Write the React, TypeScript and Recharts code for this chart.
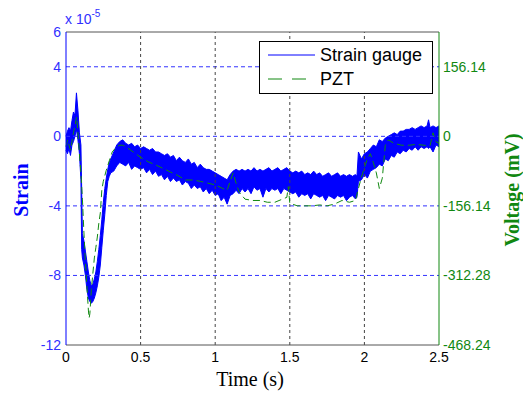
import React from "react";
import {
  ComposedChart,
  Area,
  Line,
  XAxis,
  YAxis,
  ReferenceLine,
  Legend,
  Label,
} from "recharts";

const strainTime = [
  0, 0.01, 0.02, 0.03, 0.04, 0.05, 0.06, 0.07, 0.08, 0.09, 0.1, 0.105, 0.11,
  0.12, 0.13, 0.14, 0.15, 0.16, 0.17, 0.18, 0.19, 0.2, 0.21, 0.22, 0.23, 0.24,
  0.25, 0.26, 0.27, 0.28, 0.29, 0.3, 0.32, 0.34, 0.36, 0.38, 0.4, 0.42, 0.44,
  0.46, 0.48, 0.5, 0.52, 0.54, 0.56, 0.58, 0.6, 0.62, 0.64, 0.66, 0.68, 0.7,
  0.72, 0.74, 0.76, 0.78, 0.8, 0.82, 0.84, 0.86, 0.88, 0.9, 0.92, 0.94, 0.96,
  0.98, 1, 1.02, 1.04, 1.06, 1.08, 1.1, 1.12, 1.14, 1.16, 1.18, 1.2, 1.22,
  1.24, 1.26, 1.28, 1.3, 1.32, 1.34, 1.36, 1.38, 1.4, 1.42, 1.44, 1.46, 1.48,
  1.5, 1.52, 1.54, 1.56, 1.58, 1.6, 1.62, 1.64, 1.66, 1.68, 1.7, 1.72, 1.74,
  1.76, 1.78, 1.8, 1.82, 1.84, 1.86, 1.88, 1.9, 1.92, 1.94, 1.95, 1.96, 1.98,
  2, 2.02, 2.04, 2.06, 2.08, 2.1, 2.12, 2.14, 2.16, 2.18, 2.2, 2.22, 2.24,
  2.26, 2.28, 2.3, 2.32, 2.34, 2.36, 2.38, 2.4, 2.42, 2.43, 2.44, 2.46, 2.48,
  2.5,
];
const strainLow = [
  -0.8, -1.0, -0.7, -1.1, -0.5, -0.3, 0.0, 0.4, -0.2, -1.0, -2.5, -6.5, -7.0,
  -7.4, -8.0, -8.8, -9.3, -9.5, -9.6, -9.5, -9.3, -9.0, -8.6, -8.1, -7.4, -6.4,
  -5.4, -4.5, -3.4, -2.6, -2.3, -2.1, -2.0, -1.7, -1.5, -1.6, -1.7, -1.5, -1.9,
  -1.7, -1.8, -1.9, -1.8, -2.1, -1.9, -2.2, -2.0, -2.3, -2.2, -2.5, -2.3, -2.6,
  -2.4, -2.6, -2.5, -2.8, -2.6, -2.7, -3.0, -2.8, -3.0, -2.9, -3.2, -3.0, -3.3,
  -3.1, -3.4, -3.3, -3.7, -3.5, -3.9, -3.4, -3.3, -3.1, -3.3, -3.0, -3.2, -3.0,
  -3.3, -2.9, -3.1, -3.0, -3.5, -3.0, -3.2, -3.0, -3.1, -3.0, -3.3, -3.0, -3.1,
  -3.2, -3.3, -3.2, -3.5, -3.3, -3.4, -3.3, -3.6, -3.3, -3.4, -3.5, -3.4, -3.7,
  -3.4, -3.5, -3.6, -3.4, -3.5, -3.4, -3.7, -3.5, -3.4, -3.6, -3.5, -2.6, -2.5,
  -2.2, -2.4, -2.0, -1.9, -1.8, -1.6, -1.7, -1.3, -1.4, -1.1, -1.2, -0.9, -1.0,
  -0.8, -0.9, -0.7, -0.8, -0.6, -0.8, -0.6, -0.7, -0.6, -0.7, -0.6, -0.9, -0.5,
  -0.6,
];
const strainHigh = [
  0.0, 0.3, 0.5, 0.3, 0.9, 1.4, 1.2, 2.5, 1.5, 0.2, -0.5, -3.0, -5.6, -6.0,
  -6.6, -7.2, -7.8, -8.3, -8.6, -8.5, -8.2, -7.8, -7.2, -6.5, -5.7, -4.8, -3.8,
  -3.0, -2.4, -1.9, -1.5, -1.3, -0.9, -0.5, -0.3, -0.2, -0.4, -0.5, -0.4, -0.6,
  -0.5, -0.7, -0.6, -0.7, -0.8, -0.7, -0.9, -0.9, -1.0, -1.1, -1.0, -1.2, -1.1,
  -1.4, -1.2, -1.4, -1.5, -1.3, -1.6, -1.5, -1.8, -1.6, -1.8, -1.9, -1.9, -2.0,
  -2.1, -2.2, -2.3, -2.4, -2.5, -2.2, -2.0, -1.9, -2.0, -1.9, -2.0, -1.9, -2.0,
  -1.8, -2.0, -1.9, -2.0, -1.9, -1.8, -2.0, -1.9, -1.8, -2.0, -1.9, -1.8, -2.0,
  -2.1, -2.0, -2.1, -2.0, -2.2, -2.1, -2.2, -2.0, -2.2, -2.1, -2.3, -2.2, -2.1,
  -2.3, -2.2, -2.1, -2.3, -2.2, -2.3, -2.2, -2.3, -2.2, -2.3, -0.9, -1.3, -1.0,
  -0.9, -0.7, -0.5, -0.6, -0.2, -0.3, -0.1, 0.0, 0.1, 0.2, 0.1, 0.3, 0.3, 0.4,
  0.4, 0.5, 0.4, 0.5, 0.6, 0.5, 0.6, 0.95, 0.5, 0.6, 0.5, 0.6,
];

// PZT voltage (mV)
const pztTime = [
  0, 0.01, 0.02, 0.03, 0.04, 0.05, 0.06, 0.07, 0.075, 0.08, 0.09, 0.1, 0.11,
  0.12, 0.13, 0.14, 0.15, 0.155, 0.16, 0.17, 0.18, 0.19, 0.2, 0.21, 0.22, 0.23,
  0.24, 0.25, 0.27, 0.29, 0.31, 0.34, 0.36, 0.38, 0.4, 0.45, 0.5, 0.55, 0.6,
  0.65, 0.7, 0.75, 0.8, 0.85, 0.9, 0.95, 1, 1.05, 1.08, 1.1, 1.12, 1.14, 1.16,
  1.2, 1.25, 1.3, 1.35, 1.4, 1.45, 1.48, 1.49, 1.5, 1.55, 1.6, 1.65, 1.7, 1.75,
  1.8, 1.85, 1.9, 1.94, 1.96, 1.98, 2, 2.02, 2.04, 2.06, 2.08, 2.1, 2.12, 2.14,
  2.16, 2.2, 2.25, 2.3, 2.35, 2.4, 2.44, 2.46, 2.48, 2.5,
];
const pztMv = [
  -23, -8, -20, -31, -12, 8, 23, 43, 31, 8, -39, -82, -141, -215, -281, -336,
  -390, -408, -398, -344, -308, -273, -250, -226, -195, -172, -121, -101, -76,
  -55, -35, -23, -20, -20, -23, -35, -47, -57, -64, -72, -80, -88, -98, -98,
  -101, -105, -109, -117, -121, -101, -82, -105, -125, -141, -144, -144, -148,
  -148, -141, -137, -113, -150, -156, -156, -156, -154, -156, -152, -144, -148,
  -144, -117, -92, -70, -51, -39, -59, -82, -117, -94, -20, -8, -16, -20, -20,
  -18, -20, -21, 8, -12, -16,
];

const timeTicks = [0, 0.5, 1, 1.5, 2, 2.5];
const strainTicks = [-12, -8, -4, 0, 4, 6];
const voltTicks = [-468.42, -312.28, -156.14, 0, 156.14];
const voltTickLabels = ["-468.24", "-312.28", "-156.14", "0", "156.14"];

type Row = { t: number; band?: [number, number]; pzt?: number };

const rowMap = new Map<number, Row>();
strainTime.forEach((t, i) => {
  const r = rowMap.get(t) ?? { t };
  r.band = [strainLow[i], strainHigh[i]];
  rowMap.set(t, r);
});
pztTime.forEach((t, i) => {
  const r = rowMap.get(t) ?? { t };
  r.pzt = pztMv[i];
  rowMap.set(t, r);
});
const data = [...rowMap.values()].sort((a, b) => a.t - b.t);

const BLUE = "#0000ff";
const BLUE_TXT = "#3030ff";
const GREEN = "#118811";
const SANS = "'Liberation Sans', Arial, sans-serif";
const SERIF = "'Liberation Serif', 'Times New Roman', serif";

function LegendBox() {
  return (
    <div
      style={{
        width: 174,
        height: 53,
        border: "1px solid #000",
        background: "#fff",
        boxSizing: "border-box",
        position: "relative",
      }}
    >
      <svg width={174} height={53} style={{ position: "absolute", left: -1, top: -1 }}>
        <line x1={9} x2={56} y1={14} y2={14} stroke={BLUE} strokeWidth={1} />
        <line x1={9} x2={56} y1={38} y2={38} stroke={GREEN} strokeDasharray="14 10" />
        <text x={61} y={20} fontFamily={SANS} fontSize={18} fill="#000">
          Strain gauge
        </text>
        <text x={61} y={44} fontFamily={SANS} fontSize={18} fill="#000">
          PZT
        </text>
      </svg>
    </div>
  );
}

export default function App() {
  return (
    <div style={{ position: "fixed", left: 0, top: 0, background: "#fff" }}>
      <ComposedChart
        width={523}
        height={394}
        data={data}
        margin={{ top: 32, right: 0, bottom: 0, left: 0 }}
      >
        <XAxis
          dataKey="t"
          type="number"
          domain={[0, 2.5]}
          ticks={timeTicks}
          height={49}
          stroke="#555"
          tickLine={false}
          tickSize={5}
          tickMargin={2}
          tick={{ fill: "#000", fontSize: 14, fontFamily: SANS }}
        >
          <Label
            content={() => (
              <text x={250} y={386} textAnchor="middle" fontFamily={SERIF} fontSize={20} fill="#000">
                Time (s)
              </text>
            )}
          />
        </XAxis>
        <YAxis
          yAxisId="left"
          domain={[-12, 6]}
          ticks={strainTicks}
          width={66}
          stroke={BLUE}
          tickLine={false}
          tickSize={3}
          tickMargin={2}
          tick={{ fill: BLUE_TXT, fontSize: 14, fontFamily: SANS }}
          allowDataOverflow
        >
          <Label
            content={() => (
              <g>
                <text
                  x={21}
                  y={190}
                  transform="rotate(-90 21 190)"
                  textAnchor="middle"
                  dominantBaseline="central"
                  fontFamily={SERIF}
                  fontWeight="bold"
                  fontSize={20}
                  fill={BLUE}
                >
                  Strain
                </text>
                <text x={65} y={24} fontFamily={SANS} fontSize={14} fill={BLUE_TXT}>
                  x 10
                  <tspan dy={-7} fontSize={10}>
                    -5
                  </tspan>
                </text>
              </g>
            )}
          />
        </YAxis>
        <YAxis
          yAxisId="right"
          orientation="right"
          domain={[-468.42, 234.21]}
          ticks={voltTicks}
          tickFormatter={(v: number) => voltTickLabels[voltTicks.indexOf(v)] ?? String(v)}
          width={84}
          stroke={GREEN}
          tickLine={false}
          tickSize={2}
          tickMargin={2}
          tick={{ fill: GREEN, fontSize: 14, fontFamily: SANS }}
          allowDataOverflow
        >
          <Label
            content={() => (
              <text
                x={512}
                y={190}
                transform="rotate(-90 512 190)"
                textAnchor="middle"
                dominantBaseline="central"
                fontFamily={SERIF}
                fontWeight="bold"
                fontSize={20}
                fill={GREEN}
              >
                Voltage (mV)
              </text>
            )}
          />
        </YAxis>

        {[4, 0, -4, -8].map((v) => (
          <ReferenceLine key={"h" + v} yAxisId="left" y={v} stroke="#3333ff" strokeDasharray="4 3" />
        ))}
        {[0.5, 1, 1.5, 2].map((v) => (
          <ReferenceLine key={"v" + v} yAxisId="left" x={v} stroke="#444" strokeDasharray="3 3" />
        ))}
        <ReferenceLine yAxisId="left" y={6} stroke="#555" />

        <Area
          yAxisId="left"
          dataKey="band"
          type="linear"
          stroke={BLUE}
          strokeWidth={1}
          fill={BLUE}
          fillOpacity={1}
          connectNulls
          dot={false}
          activeDot={false}
          isAnimationActive={false}
        />
        <Line
          yAxisId="right"
          dataKey="pzt"
          type="linear"
          stroke={GREEN}
          strokeWidth={1}
          strokeDasharray="7 4"
          connectNulls
          dot={false}
          activeDot={false}
          isAnimationActive={false}
        />

        <Legend
          verticalAlign="middle"
          align="center"
          layout="horizontal"
          wrapperStyle={{ position: "absolute", left: 259, top: 41, width: 174, height: 53 }}
          content={() => <LegendBox />}
        />
      </ComposedChart>
    </div>
  );
}
